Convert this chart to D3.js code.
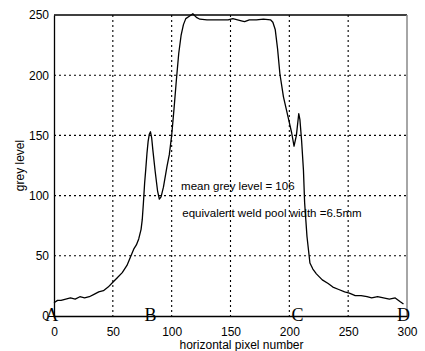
<!DOCTYPE html>
<html>
<head>
<meta charset="utf-8">
<script src="https://cdn.jsdelivr.net/npm/d3@7"></script>
<style>
  body { margin: 0; background: #fff; }
  text { font-family: "Liberation Sans", Arial, sans-serif; }
</style>
</head>
<body>
<div id="grafico"></div>
<script>
var pixel = [0,3,6,10,14,18,22,26,30,34,38,42,46,50,54,58,62,65,68,70,72,74,75,76,77,78,79,80,81,82,83,84,86,88,89.5,91,93,96,98,100,102,104,106,108,110,112,115,118,121,124,130,136,142,148,152,156,160,162,166,172,178,184,186,188,190,192,195,199,202,204,206,208,209,210.4,212,213,215,217.5,220,223,228,233,237,242,247,251,256,261,266,270,275,280,285,290,294,297];
var grey = [11,13,13,14,15,14,16,15,16,18,20,21,24,28,32,36,42,49,56,59,64,72,80,94,110,122,135,145,151,153,148,138,120,104,97,99,107,124,134,150,172,196,218,233,242,247,249,251,248,246.5,246,246,246,246,247,246,245,244.5,246,246,246.5,246,244,238,222,201,182,165,152,141,150,168,163,146,121,94,66,44,39,35,30,27,24,22,20,19,17,17,16,15,16,15,14,15,12,10];
var xTicks = [0,50,100,150,200,250,300];
var yTicks = [0,50,100,150,200,250];
var letras = ["A","B","C","D"];
var letrasX = [-2,82,207,297];
var notas = ["mean grey level = 106", "equivalent weld pool width =6.5mm"];

var width = 425, height = 351;
var margin = {top: 15, right: 18, bottom: 35, left: 54};
var w = width - margin.left - margin.right;
var h = height - margin.top - margin.bottom;

var x = d3.scaleLinear().domain([0,300]).range([0,w]);
var y = d3.scaleLinear().domain([0,250]).range([h,0]);

var svg = d3.select("#grafico").append("svg")
	.attr("width", width)
	.attr("height", height)
	.append("g")
	.attr("transform", "translate(" + margin.left + "," + margin.top + ")");

// rejilla punteada
svg.selectAll(".gx").data(xTicks.slice(1,-1)).enter().append("line")
	.attr("x1", d => x(d)).attr("x2", d => x(d))
	.attr("y1", 0).attr("y2", h)
	.attr("stroke", "#000").attr("stroke-width", 1.1)
	.attr("stroke-dasharray", "2,3");
svg.selectAll(".gy").data(yTicks.slice(1,-1)).enter().append("line")
	.attr("x1", 0).attr("x2", w)
	.attr("y1", d => y(d)).attr("y2", d => y(d))
	.attr("stroke", "#000").attr("stroke-width", 1.1)
	.attr("stroke-dasharray", "2,3");

// marco
svg.append("line").attr("x1", 0).attr("x2", w).attr("y1", 0).attr("y2", 0)
	.attr("stroke", "#000").attr("stroke-width", 1.3);
svg.append("line").attr("x1", w).attr("x2", w).attr("y1", 0).attr("y2", h)
	.attr("stroke", "#888").attr("stroke-width", 1.5);

// ejes
var ejeX = svg.append("g").attr("transform", "translate(0," + h + ")")
	.call(d3.axisBottom(x).tickValues(xTicks).tickSize(0).tickPadding(11));
var ejeY = svg.append("g")
	.call(d3.axisLeft(y).tickValues(yTicks).tickSize(0).tickPadding(5));
[ejeX, ejeY].forEach(function(e){
	e.select(".domain").attr("stroke", "#000").attr("stroke-width", 1.3);
	e.selectAll("text").attr("font-size", 12).attr("fill", "#000")
		.style("font-family", "'Liberation Sans', Arial, sans-serif");
});

// curva
var linea = d3.line().x((d,i) => x(pixel[i])).y(d => y(d));
svg.append("path").datum(grey)
	.attr("d", linea)
	.attr("fill", "none")
	.attr("stroke", "#000")
	.attr("stroke-width", 1.3)
	.attr("stroke-linejoin", "round");

// letras A B C D sobre el eje
svg.selectAll(".letra").data(letras).enter().append("text")
	.attr("x", (d,i) => x(letrasX[i]))
	.attr("y", h + 5)
	.attr("text-anchor", "middle")
	.attr("font-size", 18)
	.style("font-family", "'Liberation Serif', 'Times New Roman', serif")
	.text(d => d);

// anotaciones
svg.selectAll(".nota").data(notas).enter().append("text")
	.attr("x", (d,i) => i == 0 ? x(108) : x(109))
	.attr("y", (d,i) => i == 0 ? y(105) : y(82))
	.attr("font-size", 11.5)
	.text(d => d);

// titulos
svg.append("text")
	.attr("x", w / 2 + 11)
	.attr("y", h + 33)
	.attr("text-anchor", "middle")
	.attr("font-size", 12)
	.text("horizontal pixel number");
svg.append("text")
	.attr("transform", "translate(" + (-30) + "," + (h / 2) + ") rotate(-90)")
	.attr("text-anchor", "middle")
	.attr("font-size", 12)
	.text("grey level");
</script>
</body>
</html>
